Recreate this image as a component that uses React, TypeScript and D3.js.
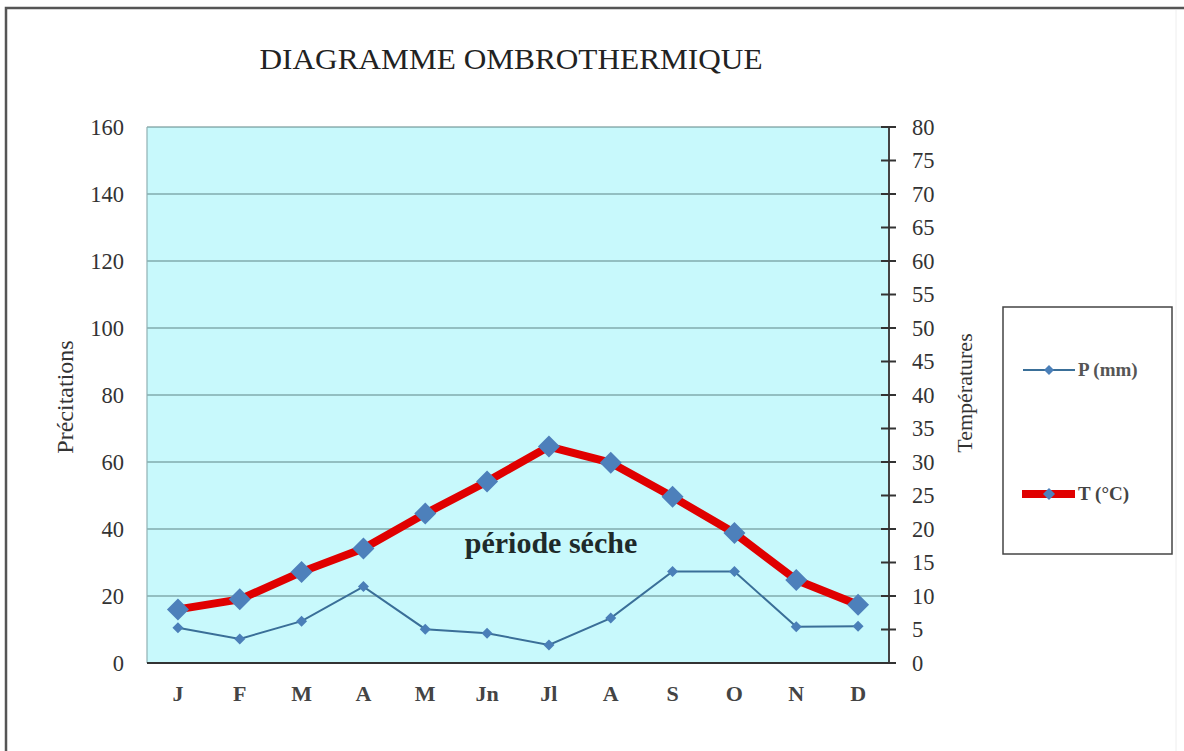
import React from "react";
import * as d3 from "d3";

const months = ["J", "F", "M", "A", "M", "Jn", "Jl", "A", "S", "O", "N", "D"];
const precip = [10.5, 7.2, 12.5, 22.8, 10.1, 8.9, 5.4, 13.4, 27.3, 27.3, 10.8, 11.0];
const temp = [8.0, 9.5, 13.6, 17.1, 22.3, 27.1, 32.3, 29.9, 24.8, 19.4, 12.4, 8.7];
const leftTicks = [0, 20, 40, 60, 80, 100, 120, 140, 160];
const rightTicks = [0, 5, 10, 15, 20, 25, 30, 35, 40, 45, 50, 55, 60, 65, 70, 75, 80];

const W = 1184;
const H = 751;
const L = 147;
const R = 889;
const T = 127;
const B = 663;

export default function App() {
  const x = d3.scaleBand<number>().domain(d3.range(months.length)).range([L, R]);
  const cx = (i: number) => (x(i) as number) + x.bandwidth() / 2;
  const yP = d3.scaleLinear().domain([0, 160]).range([B, T]);
  const yT = d3.scaleLinear().domain([0, 80]).range([B, T]);
  const lineP = d3.line<number>().x((_, i) => cx(i)).y((d) => yP(d));
  const lineT = d3.line<number>().x((_, i) => cx(i)).y((d) => yT(d));
  const diamond = (px: number, py: number, r: number) =>
    `M${px},${py - r}L${px + r},${py}L${px},${py + r}L${px - r},${py}Z`;
  const serif = "'Liberation Serif', 'Times New Roman', serif";

  return (
    <svg
      width={W}
      height={H}
      style={{ position: "absolute", left: 0, top: 0, background: "#fff" }}
      fontFamily={serif}
    >
      <rect x={0} y={0} width={W} height={H} fill="#fff" />
      {/* outer frame */}
      <path d={`M6,${H + 5}V8H${W + 5}`} fill="none" stroke="#555" strokeWidth={2.5} />
      <line x1={1176} y1={10} x2={1176} y2={H} stroke="#eee" strokeWidth={1} />

      <text
        x={511}
        y={69}
        textAnchor="middle"
        fontSize={30}
        fill="#222"
        textLength={503}
        lengthAdjust="spacingAndGlyphs"
      >
        DIAGRAMME OMBROTHERMIQUE
      </text>

      {/* plot background */}
      <rect x={L} y={T} width={R - L} height={B - T} fill="#c8f9fc" />
      {leftTicks.map((t) => (
        <line key={"g" + t} x1={L} x2={R} y1={yP(t)} y2={yP(t)} stroke="#5f8585" strokeWidth={1.2} />
      ))}
      <line x1={L} x2={L} y1={T} y2={B} stroke="#8fb0b3" strokeWidth={1.2} />
      <line x1={L} x2={R} y1={B} y2={B} stroke="#333" strokeWidth={2} />

      {/* right axis */}
      <line x1={R} x2={R} y1={T} y2={B} stroke="#444" strokeWidth={2} />
      {rightTicks.map((t) => (
        <g key={"r" + t}>
          <line x1={R - 8} x2={R + 7} y1={yT(t)} y2={yT(t)} stroke="#333" strokeWidth={2} />
          <text x={912} y={yT(t) + 7.5} fontSize={22.5} fill="#333">
            {t}
          </text>
        </g>
      ))}

      {/* left tick labels */}
      {leftTicks.map((t) => (
        <text key={"l" + t} x={124} y={yP(t) + 7.5} fontSize={22.5} fill="#333" textAnchor="end">
          {t}
        </text>
      ))}

      {/* month labels */}
      {months.map((m, i) => (
        <text key={"m" + i} x={cx(i)} y={701} fontSize={22} fontWeight="bold" fill="#444" textAnchor="middle">
          {m}
        </text>
      ))}

      {/* axis titles */}
      <text transform="translate(73,397) rotate(-90)" textAnchor="middle" fontSize={24} fill="#333">
        Précitations
      </text>
      <text transform="translate(972,393) rotate(-90)" textAnchor="middle" fontSize={22} fill="#333">
        Températures
      </text>

      {/* precipitation series */}
      <path d={lineP(precip) as string} fill="none" stroke="#3a6f98" strokeWidth={2} />
      {precip.map((v, i) => (
        <path key={"pp" + i} d={diamond(cx(i), yP(v), 5.5)} fill="#4a7fb8" />
      ))}

      {/* temperature series */}
      <path d={lineT(temp) as string} fill="none" stroke="#e00000" strokeWidth={8} strokeLinejoin="round" />
      {temp.map((v, i) => (
        <path key={"tp" + i} d={diamond(cx(i), yT(v), 11)} fill="#4d80bb" />
      ))}

      <text x={551} y={553} textAnchor="middle" fontSize={30} fontWeight="bold" fill="#1e2a2a">
        période séche
      </text>

      {/* legend */}
      <rect x={1003} y={307} width={169} height={247} fill="#fff" stroke="#444" strokeWidth={1.5} />
      <line x1={1023} x2={1075} y1={370} y2={370} stroke="#3a6f98" strokeWidth={2} />
      <path d={diamond(1049, 370, 5)} fill="#4a7fb8" />
      <text x={1078} y={376} fontSize={19} fontWeight="bold" fill="#555">
        P (mm)
      </text>
      <line x1={1022} x2={1075} y1={494} y2={494} stroke="#e00000" strokeWidth={8} />
      <path d={diamond(1049, 494, 6)} fill="#4d80bb" />
      <text x={1078} y={500} fontSize={19} fontWeight="bold" fill="#444">
        T (°C)
      </text>
    </svg>
  );
}
